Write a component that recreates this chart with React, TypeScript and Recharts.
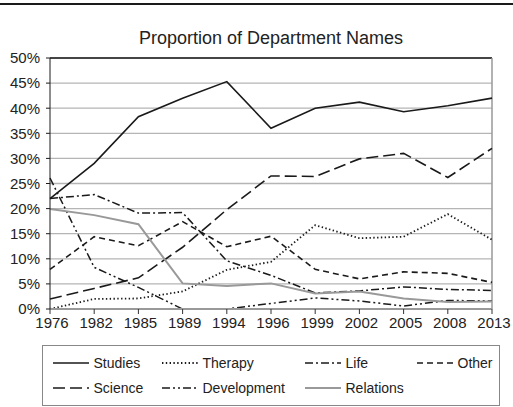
import React from 'react';
import { LineChart, Line, XAxis, YAxis, CartesianGrid, ReferenceLine } from 'recharts';

const years = ['1976', '1982', '1985', '1989', '1994', '1996', '1999', '2002', '2005', '2008', '2013'];
const studies = [22, 29, 38.3, 42, 45.3, 36, 40, 41.2, 39.3, 40.5, 42];
const therapy = [0, 2, 2.1, 3.5, 7.8, 9.4, 16.7, 14.1, 14.4, 18.9, 13.8];
const life = [22, 22.8, 19.1, 19.2, 9.6, 6.7, 3.2, 3.6, 4.4, 3.9, 3.7];
const other = [7.9, 14.4, 12.6, 17.4, 12.4, 14.5, 7.9, 6.0, 7.4, 7.1, 5.3];
const science = [2, 4.1, 6.2, 12.3, 19.8, 26.5, 26.4, 29.9, 31.0, 26.2, 32];
const development = [26.1, 8.3, 4.3, 0, 0, 1.1, 2.2, 1.6, 0.6, 1.7, 1.6];
const relations = [19.9, 18.7, 16.9, 5.1, 4.6, 5.1, 3.1, 3.5, 2.1, 1.4, 1.5];
const yTicks = [0, 5, 10, 15, 20, 25, 30, 35, 40, 45, 50];
const title = 'Proportion of Department Names';

const seriesValues: Record<string, number[]> = {
  Studies: studies,
  Therapy: therapy,
  Life: life,
  Other: other,
  Science: science,
  Development: development,
  Relations: relations,
};

const data = years.map((year, i) => {
  const row: Record<string, string | number> = { year };
  Object.keys(seriesValues).forEach((k) => {
    row[k] = seriesValues[k][i];
  });
  return row;
});

type S = { key: string; color: string; dash?: string; width: number; cap?: 'round' | 'butt' };
const styles: Record<string, S> = {
  Studies: { key: 'Studies', color: '#1a1a1a', width: 1.6 },
  Therapy: { key: 'Therapy', color: '#1a1a1a', dash: '1.4 2.4', width: 1.8 },
  Life: { key: 'Life', color: '#1a1a1a', dash: '8 3 2 3', width: 1.5 },
  Other: { key: 'Other', color: '#1a1a1a', dash: '6 4', width: 1.6 },
  Science: { key: 'Science', color: '#1a1a1a', dash: '12 5', width: 1.6 },
  Development: { key: 'Development', color: '#1a1a1a', dash: '8 3 2 3 2 3', width: 1.5 },
  Relations: { key: 'Relations', color: '#999999', width: 2 },
};

const legendRows = [
  ['Studies', 'Therapy', 'Life', 'Other'],
  ['Science', 'Development', 'Relations'],
];
const legendCols = [11, 120, 263, 375];
const legendRowY = [18, 43];

const FONT = '"Liberation Sans", Arial, sans-serif';

export default function App() {
  return (
    <div style={{ position: 'absolute', left: 0, top: 0, width: 513, height: 407, background: '#fff', fontFamily: FONT }}>
      <div style={{ position: 'absolute', left: 0, top: 3, width: 513, height: 2, background: '#1a1a1a' }} />
      <div
        style={{
          position: 'absolute',
          left: 50,
          width: 442,
          top: 27,
          height: 22,
          lineHeight: '22px',
          textAlign: 'center',
          fontSize: 18,
          color: '#222',
        }}
      >
        {title}
      </div>
      <div style={{ position: 'absolute', left: 0, top: 0 }}>
        <LineChart width={513} height={407} data={data} margin={{ top: 58, right: 21, bottom: 68, left: 0 }}>
          <CartesianGrid vertical={false} stroke="#b5b5b5" strokeWidth={1.3} />
          <XAxis
            dataKey="year"
            interval={0}
            height={30}
            tickSize={5}
            tickMargin={3}
            axisLine={{ stroke: '#999', strokeWidth: 2 }}
            tickLine={{ stroke: '#333' }}
            tick={{ fontSize: 15, fill: '#222', fontFamily: FONT, dx: 2 }}
          />
          <YAxis
            width={50}
            domain={[0, 50]}
            ticks={yTicks}
            interval={0}
            tickFormatter={(v: number) => `${v}%`}
            tickSize={4}
            tickMargin={6}
            axisLine={{ stroke: '#1a1a1a' }}
            tickLine={{ stroke: '#1a1a1a' }}
            tick={{ fontSize: 15, fill: '#222', fontFamily: FONT }}
          />
          <ReferenceLine y={50} stroke="#1a1a1a" strokeWidth={1.3} />
          <ReferenceLine x="2013" stroke="#999" strokeWidth={1.5} />
          {Object.keys(styles).map((k) => {
            const s = styles[k];
            return (
              <Line
                key={k}
                type="linear"
                dataKey={k}
                stroke={s.color}
                strokeWidth={s.width}
                strokeDasharray={s.dash}
                dot={false}
                activeDot={false}
                isAnimationActive={false}
              />
            );
          })}
        </LineChart>
      </div>
      <div
        style={{
          position: 'absolute',
          left: 42,
          top: 345,
          width: 458,
          height: 61,
          border: '1.5px solid #888',
          boxSizing: 'border-box',
        }}
      >
        {legendRows.map((row, ri) =>
          row.map((k, ci) => {
            const s = styles[k];
            return (
              <div
                key={k}
                style={{
                  position: 'absolute',
                  left: legendCols[ci] - 1.5,
                  top: legendRowY[ri] - 10 - 1.5,
                  height: 20,
                  display: 'flex',
                  alignItems: 'center',
                  whiteSpace: 'nowrap',
                }}
              >
                <svg width={36} height={10} style={{ display: 'block' }}>
                  <line x1={0} y1={5} x2={36} y2={5} stroke={s.color} strokeWidth={s.width} strokeDasharray={s.dash} />
                </svg>
                <span style={{ marginLeft: 5, fontSize: 14, color: '#222' }}>{k}</span>
              </div>
            );
          })
        )}
      </div>
    </div>
  );
}
